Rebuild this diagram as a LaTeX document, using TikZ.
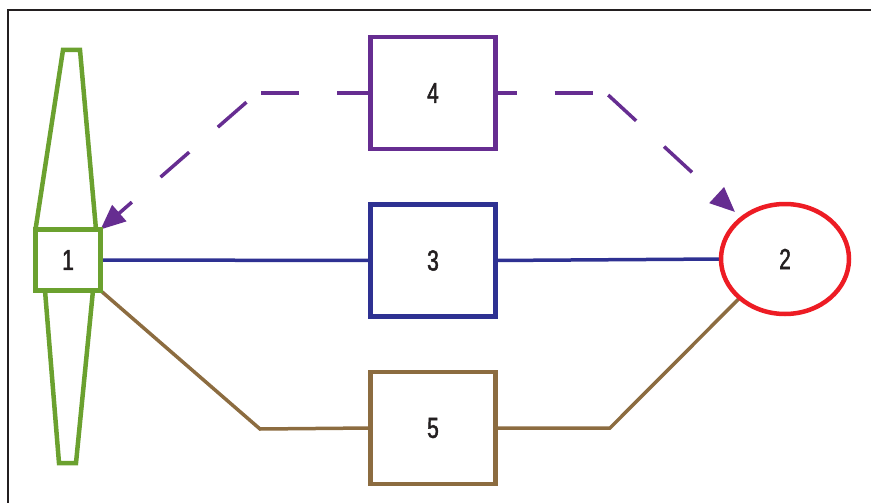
\documentclass[tikz,border=0pt]{standalone}
\usepackage{fontspec}
\setmainfont[FakeStretch=0.72,FakeBold=1.6]{Liberation Sans}
\usetikzlibrary{arrows.meta,shapes.geometric,backgrounds}
\definecolor{framegray}{HTML}{231F20}
\definecolor{labelink}{HTML}{231F20}
\definecolor{sourcegreen}{HTML}{6BA12F}
\definecolor{sinkred}{HTML}{ED1C24}
\definecolor{pathblue}{HTML}{2E3192}
\definecolor{pathpurple}{HTML}{662D91}
\definecolor{pathbrown}{HTML}{8C6C40}
\tikzset{
  box/.style={draw, fill=white, line width=4.5pt, minimum width=125pt,
    minimum height=112pt, inner sep=0pt, outer sep=0pt, text=labelink,
    font=\fontsize{29}{30}\selectfont},
  link/.style={line width=3.5pt},
  dashedlink/.style={line width=3.5pt, pathpurple, dash pattern=on 38pt off 38pt},
  purpletip/.style={-{Triangle[length=25pt,width=21pt]}},
}
\begin{document}
\begin{tikzpicture}[x=1pt,y=-1pt]
\useasboundingbox (0,0) rectangle (871,503);
% frame
\draw[framegray, line width=1.3pt] (8,503) -- (8,10) -- (871,10);

% junction points and the arrow tip near node 2
\coordinate (cornerL) at (257,93);
\coordinate (cornerR) at (606,93);
\coordinate (bendL) at (260,429);
\coordinate (bendR) at (610,428);
\coordinate (tipR) at (735,212);
\coordinate (spTopL) at (63,50);
\coordinate (spTopR) at (80,50);
\coordinate (spBotL) at (59,463);
\coordinate (spBotR) at (76,463);

\node[box, draw=sourcegreen, minimum width=65pt, minimum height=61pt] (n1) at (68,260) {1};
\node[box, draw=pathpurple] (n4) at (433,93) {4};
\node[box, draw=pathblue] (n3) at (433,260.5) {3};
\node[box, draw=pathbrown] (n5) at (433,428) {5};
\node[ellipse, draw=sinkred, fill=white, line width=4.5pt, minimum width=128pt,
      minimum height=110pt, inner sep=0pt, outer sep=0pt, text=labelink,
      font=\fontsize{29}{30}\selectfont] (n2) at (785,259) {2};

% spindle around node 1
\draw[sourcegreen, line width=4.5pt]
  (n1.north west) -- (spTopL) -- (spTopR) -- ([xshift=-4.5pt]n1.north east);
\draw[sourcegreen, line width=4.5pt]
  ([xshift=9.5pt]n1.south west) -- (spBotL) -- (spBotR) -- ([xshift=-7.5pt]n1.south east);

\begin{scope}[on background layer]
% blue path
\draw[link, pathblue] (n1.east) -- (n3.west);
\draw[link, pathblue] (n3.east) -- (n2.west);
% brown path
\draw[link, pathbrown] (n1.south east) -- (bendL) -- (n5.west);
\draw[link, pathbrown] (n5.east) -- (bendR) -- (n2.south west);
% purple dashed arrows, each leg with its own dash phase
\draw[dashedlink, dash phase=4pt] (n4.west) -- (cornerL);
\draw[dashedlink, dash phase=62pt, purpletip] (cornerL) -- (n1.north east);
\draw[dashedlink, dash phase=17pt] (n4.east) -- (cornerR);
\draw[dashedlink, dash phase=73pt, purpletip] (cornerR) -- (tipR);
\end{scope}
\end{tikzpicture}
\end{document}
